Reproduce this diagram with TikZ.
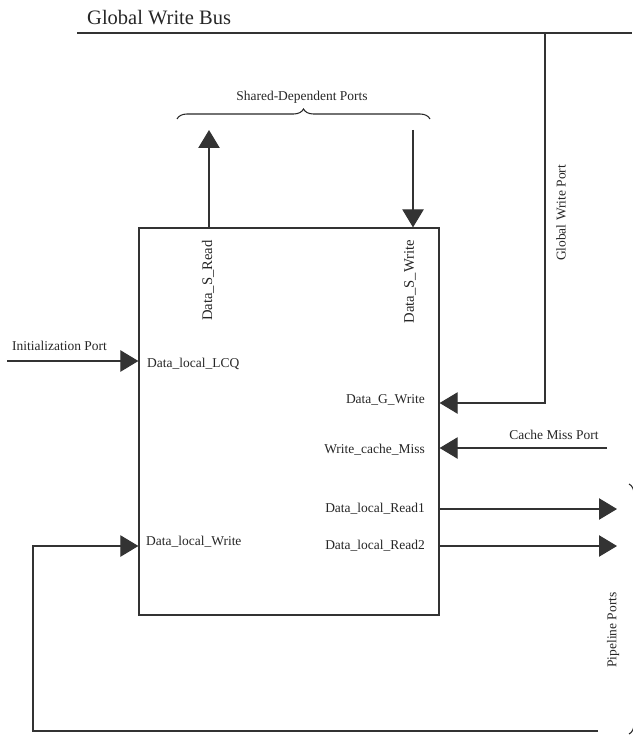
\documentclass[tikz,border=0pt]{standalone}
\usepackage{fontspec}
\setmainfont{Liberation Serif}
\usetikzlibrary{arrows.meta,decorations.pathreplacing,positioning,calc}
\tikzset{
    >={Triangle[length=0.54cm,width=0.64cm]}, % big filled port arrowheads
    wire/.style={line width=1pt, draw=black!80},
    portlabel/.style={font=\fontsize{11.5}{13}\selectfont, text=black!85, inner sep=0pt},
    buslabel/.style={font=\fontsize{17.5}{20}\selectfont, text=black!85, inner sep=0pt},
    portbrace/.style={decorate, decoration={brace, amplitude=0.3cm}, line width=0.9pt, draw=black!85}
}

\begin{document}
\begin{tikzpicture}[x=0.03cm, y=0.03cm]
  \useasboundingbox (0,0) rectangle (632,-735);

  % Data cache block
  \node[wire, draw, minimum width=9cm, minimum height=11.61cm, inner sep=0pt] (dcache) at (289,-421.5) {};

  % Global write bus
  \coordinate (busL) at (77,-33);
  \coordinate (busR) at (632,-33);
  \coordinate (busTap) at (545,-33);
  \coordinate (gwCorner) at (545,-403);
  \node[buslabel, anchor=west] (busText) at (87,-18) {Global Write Bus};
  \draw[wire] (busL) -- (busR);
  \draw[wire, ->] (busTap) -- (gwCorner) -- (dcache.east |- gwCorner);
  \node[portlabel, rotate=90] (gwPort) at (561,-213) {Global Write Port};

  % Shared-dependent ports
  \coordinate (sRead) at (209,-130);
  \coordinate (sWrite) at (413,-130);
  \draw[wire, ->] (dcache.north -| sRead) -- (sRead);
  \draw[wire, ->] (sWrite) -- (dcache.north -| sWrite);
  \draw[portbrace] (177,-119) -- (430,-119);
  \node[portlabel] (sharedText) at (302,-97) {Shared-Dependent Ports};
  \node[portlabel, rotate=90, anchor=east, font=\fontsize{12.5}{14}\selectfont] (sReadLbl) at (208,-240) {Data\_S\_Read};
  \node[portlabel, rotate=90, anchor=east, font=\fontsize{12.5}{14}\selectfont] (sWriteLbl) at (410,-240) {Data\_S\_Write};

  % Left side ports
  \coordinate (initIn) at (7,-361);
  \draw[wire, ->] (initIn) -- (dcache.west |- initIn);
  \node[portlabel] (initText) at (59.5,-346) {Initialization Port};
  \node[portlabel, anchor=west] (lcqLbl) at (147,-364) {Data\_local\_LCQ};

  \coordinate (loopA) at (598,-731);
  \coordinate (loopB) at (33,-731);
  \coordinate (loopC) at (33,-546);
  \draw[wire, ->] (loopA) -- (loopB) -- (loopC) -- (dcache.west |- loopC);
  \node[portlabel, anchor=west] (lwLbl) at (146,-542) {Data\_local\_Write};

  % Right side ports
  \node[portlabel, anchor=east] (gwLbl) at (425,-400) {Data\_G\_Write};

  \coordinate (missIn) at (607,-448);
  \draw[wire, ->] (missIn) -- (dcache.east |- missIn);
  \node[portlabel] (missText) at (554,-435) {Cache Miss Port};
  \node[portlabel, anchor=east] (missLbl) at (425,-450) {Write\_cache\_Miss};

  \coordinate (read1) at (617,-509);
  \coordinate (read2) at (617,-546);
  \draw[wire, ->] (dcache.east |- read1) -- (read1);
  \draw[wire, ->] (dcache.east |- read2) -- (read2);
  \node[portlabel, anchor=east] (r1Lbl) at (425,-509) {Data\_local\_Read1};
  \node[portlabel, anchor=east] (r2Lbl) at (425,-546) {Data\_local\_Read2};

  % Pipeline ports (brace runs off the page)
  \draw[portbrace] (629,-484) -- (629,-734);
  \node[portlabel, rotate=90] (pipeText) at (613,-630) {Pipeline Ports};

\end{tikzpicture}
\end{document}
